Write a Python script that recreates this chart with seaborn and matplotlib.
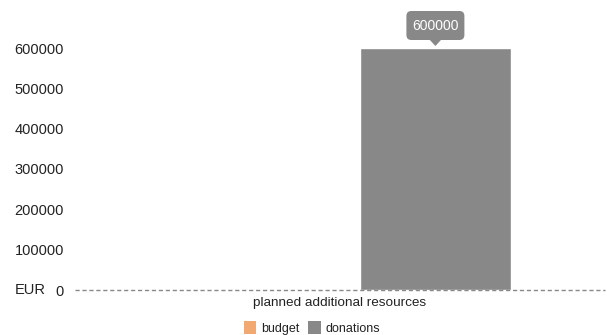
import matplotlib
matplotlib.use("Agg")
import matplotlib.pyplot as plt
import seaborn as sns
import pandas as pd
from matplotlib.patches import FancyBboxPatch, Polygon
from matplotlib.transforms import IdentityTransform

categories = ["planned additional resources"]
series = ["budget", "donations"]
budget_values = [0]
donation_values = [600000]
yticks = [0, 100000, 200000, 300000, 400000, 500000, 600000]
palette = {"budget": "#F2A971", "donations": "#888888"}

rows = []
for i, c in enumerate(categories):
    rows.append({"category": c, "series": "budget", "value": budget_values[i]})
    rows.append({"category": c, "series": "donations", "value": donation_values[i]})
df = pd.DataFrame(rows)

sns.set_style("white")
plt.rcParams["font.family"] = ["Liberation Sans", "DejaVu Sans"]

W, H = 607, 335
fig = plt.figure(figsize=(W / 100, H / 100), dpi=100)
ax = fig.add_axes([75 / W, 1 - 290 / H, 530 / W, (290 - 48) / H])
sns.barplot(data=df, x="category", y="value", hue="series", palette=palette,
            width=0.72, gap=0.21, ax=ax, legend=True, saturation=1)
ax.set_xlim(-0.5, 0.5)
ax.set_ylim(0, 600000)
for p in ax.patches:
    p.set_clip_on(False)
for s in ax.spines.values():
    s.set_visible(False)
ax.axhline(0, color="#888888", lw=1, ls=(0, (3, 2)), clip_on=False, zorder=5)
ax.set_yticks(yticks)
ax.set_yticklabels([str(v) for v in yticks], fontsize=10.5, color="#222222")
ax.tick_params(axis="y", length=0, pad=8)
ax.tick_params(axis="x", length=0, pad=5, labelsize=9.7, labelcolor="#222222")
ax.set_xlabel("")
ax.set_ylabel("")
ax.text(15 / W, 1 - 290 / H, "EUR", transform=fig.transFigure, ha="left", va="center",
        fontsize=10.5, color="#222222")

# tooltip on donations bar
fig.canvas.draw()
dpatch = [p for p in ax.patches if p.get_height() > 0][0]
cx = dpatch.get_x() + dpatch.get_width() / 2
top = dpatch.get_height()
x0, y0 = ax.transData.transform((cx, top))
bw, bh = 58, 29
box_bottom = y0 + 8
box = FancyBboxPatch((x0 - bw / 2 + 5, box_bottom + 5), bw - 10, bh - 10,
                     boxstyle="round,pad=5", fc="#888888", ec="none",
                     transform=IdentityTransform())
fig.patches.append(box)
tri = Polygon([[x0 - 6, box_bottom + 0.5], [x0 + 6, box_bottom + 0.5], [x0, y0 + 2]],
              closed=True, fc="#888888", ec="none", transform=IdentityTransform())
fig.patches.append(tri)
fig.text((x0) / W, (box_bottom + bh / 2) / H, "600000", ha="center", va="center",
         fontsize=10, color="white")

leg = ax.legend(loc="center", bbox_to_anchor=(312 / W, 1 - 328 / H), bbox_transform=fig.transFigure,
                ncol=2, frameon=False, fontsize=9, handlelength=1.0, handleheight=1.15,
                handletextpad=0.4, columnspacing=0.7, borderpad=0)
for h in leg.legend_handles:
    h.set_edgecolor("none")
    h.set_linewidth(0)
for t in leg.get_texts():
    t.set_color("#222222")

fig.savefig("out.png", dpi=100)
